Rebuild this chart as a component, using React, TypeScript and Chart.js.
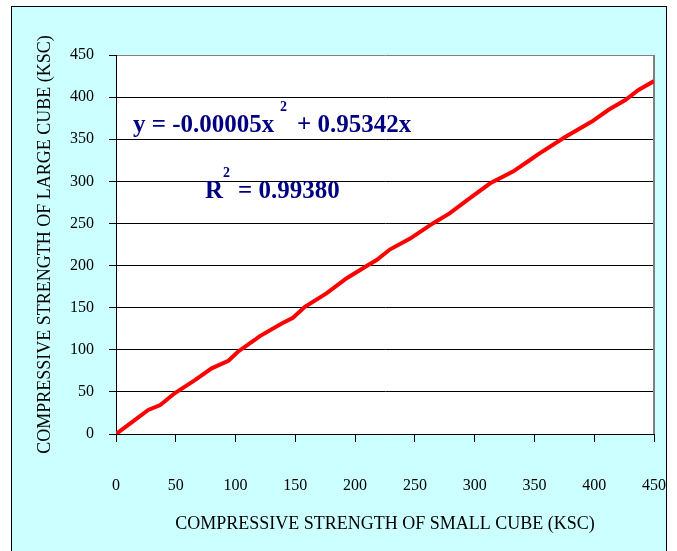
import React, { useEffect, useRef } from 'react';
import { Chart, registerables } from 'chart.js';

Chart.register(...registerables);

// Data (compressive strength, KSC)
const smallCube = [0, 12, 27, 37, 49, 66, 80, 94, 102, 116, 120, 139, 148, 158, 176, 193, 211, 218, 229, 246, 265, 279, 296, 313, 332, 346, 353, 375, 398, 412, 426, 437, 450];
const largeCube = [0, 12.7, 28.5, 34.4, 48.3, 64, 78, 87, 97.7, 111.6, 116, 131.4, 138, 151, 167, 185, 200.7, 206.6, 219, 232, 250, 262, 280, 297.7, 311.5, 325, 332, 352, 371, 385, 396.6, 408.5, 419];

const axisMin = 0;
const axisMax = 450;
const axisStep = 50;

const xTitle = 'COMPRESSIVE STRENGTH OF SMALL CUBE (KSC)';
const yTitle = 'COMPRESSIVE STRENGTH OF LARGE CUBE (KSC)';

const eqMain = 'y = -0.00005x';
const eqSup = '2';
const eqTail = '+ 0.95342x';
const r2Main = 'R';
const r2Sup = '2';
const r2Tail = '= 0.99380';

const SERIF = "'Liberation Serif', 'Times New Roman', Times, serif";

const decorPlugin = {
  id: 'decor',
  beforeDraw(chart: any) {
    const { ctx, chartArea: a } = chart;
    ctx.save();
    ctx.fillStyle = '#ffffff';
    ctx.fillRect(0, 0, chart.width, chart.height);
    ctx.fillStyle = '#CCFFFF';
    ctx.fillRect(11, 6, 655, 600);
    ctx.strokeStyle = '#000000';
    ctx.lineWidth = 1;
    ctx.strokeRect(11.5, 6.5, 655, 600);
    ctx.fillStyle = '#ffffff';
    ctx.fillRect(a.left, a.top, a.right - a.left, a.bottom - a.top);
    ctx.restore();
  },
  beforeDatasetsDraw(chart: any) {
    const { ctx, chartArea: a } = chart;
    ctx.save();
    ctx.strokeStyle = '#808080';
    ctx.lineWidth = 2;
    ctx.beginPath();
    ctx.moveTo(a.right, a.top);
    ctx.lineTo(a.right, a.bottom);
    ctx.stroke();
    ctx.restore();
  },
  afterDatasetsDraw(chart: any) {
    const { ctx } = chart;
    ctx.save();
    ctx.fillStyle = '#000080';
    ctx.textBaseline = 'alphabetic';
    ctx.textAlign = 'left';
    ctx.font = `bold 25px ${SERIF}`;
    ctx.fillText(eqMain, 133, 132);
    ctx.fillText(eqTail, 297, 132);
    ctx.fillText(r2Main, 205, 198);
    ctx.fillText(r2Tail, 238, 198);
    ctx.font = `bold 14px ${SERIF}`;
    ctx.fillText(eqSup, 280, 111);
    ctx.fillText(r2Sup, 223, 177);
    ctx.restore();
  },
};

export default function App() {
  const ref = useRef<HTMLCanvasElement | null>(null);

  useEffect(() => {
    if (!ref.current) return;
    const points = smallCube.map((x, i) => ({ x, y: largeCube[i] }));
    const chart = new Chart(ref.current, {
      type: 'line',
      data: {
        datasets: [
          {
            label: 'Large vs small cube',
            data: points,
            borderColor: '#FF0000',
            borderWidth: 4,
            pointRadius: 0,
            tension: 0,
            fill: false,
          },
        ],
      },
      options: {
        animation: false,
        responsive: false,
        devicePixelRatio: 1,
        layout: { padding: { left: 0, top: 55, right: 23, bottom: 0 } },
        plugins: { legend: { display: false }, tooltip: { enabled: false } },
        scales: {
          x: {
            type: 'linear',
            min: axisMin,
            max: axisMax,
            afterFit(scale: any) {
              scale.height = 117;
              scale.paddingLeft = 0;
              scale.paddingRight = 0;
            },
            ticks: {
              stepSize: axisStep,
              color: '#000',
              padding: 34,
              maxRotation: 0,
              font: { family: SERIF, size: 16 },
            },
            grid: {
              drawOnChartArea: false,
              drawTicks: true,
              tickLength: 8,
              tickColor: '#000',
            },
            border: { color: '#000', width: 1 },
            title: {
              display: true,
              text: xTitle,
              color: '#000',
              font: { family: SERIF, size: 18 },
              padding: { top: 0, bottom: 16 },
            },
          },
          y: {
            type: 'linear',
            min: axisMin,
            max: axisMax,
            afterFit(scale: any) {
              scale.width = 116;
              scale.paddingTop = 0;
              scale.paddingBottom = 0;
            },
            ticks: {
              stepSize: axisStep,
              color: '#000',
              padding: 15,
              font: { family: SERIF, size: 16 },
            },
            grid: {
              color: (c: any) => (c.tick && c.tick.value === axisMax ? '#808080' : '#000000'),
              tickColor: '#000',
              tickLength: 7,
              lineWidth: 1,
            },
            border: { color: '#000', width: 1 },
            title: {
              display: true,
              text: yTitle,
              color: '#000',
              font: { family: SERIF, size: 18 },
              padding: { top: 34, bottom: 0 },
            },
          },
        },
      },
      plugins: [decorPlugin],
    });
    return () => chart.destroy();
  }, []);

  return (
    <canvas
      ref={ref}
      width={677}
      height={551}
      style={{ position: 'fixed', left: 0, top: 0, width: 677, height: 551 }}
    />
  );
}
